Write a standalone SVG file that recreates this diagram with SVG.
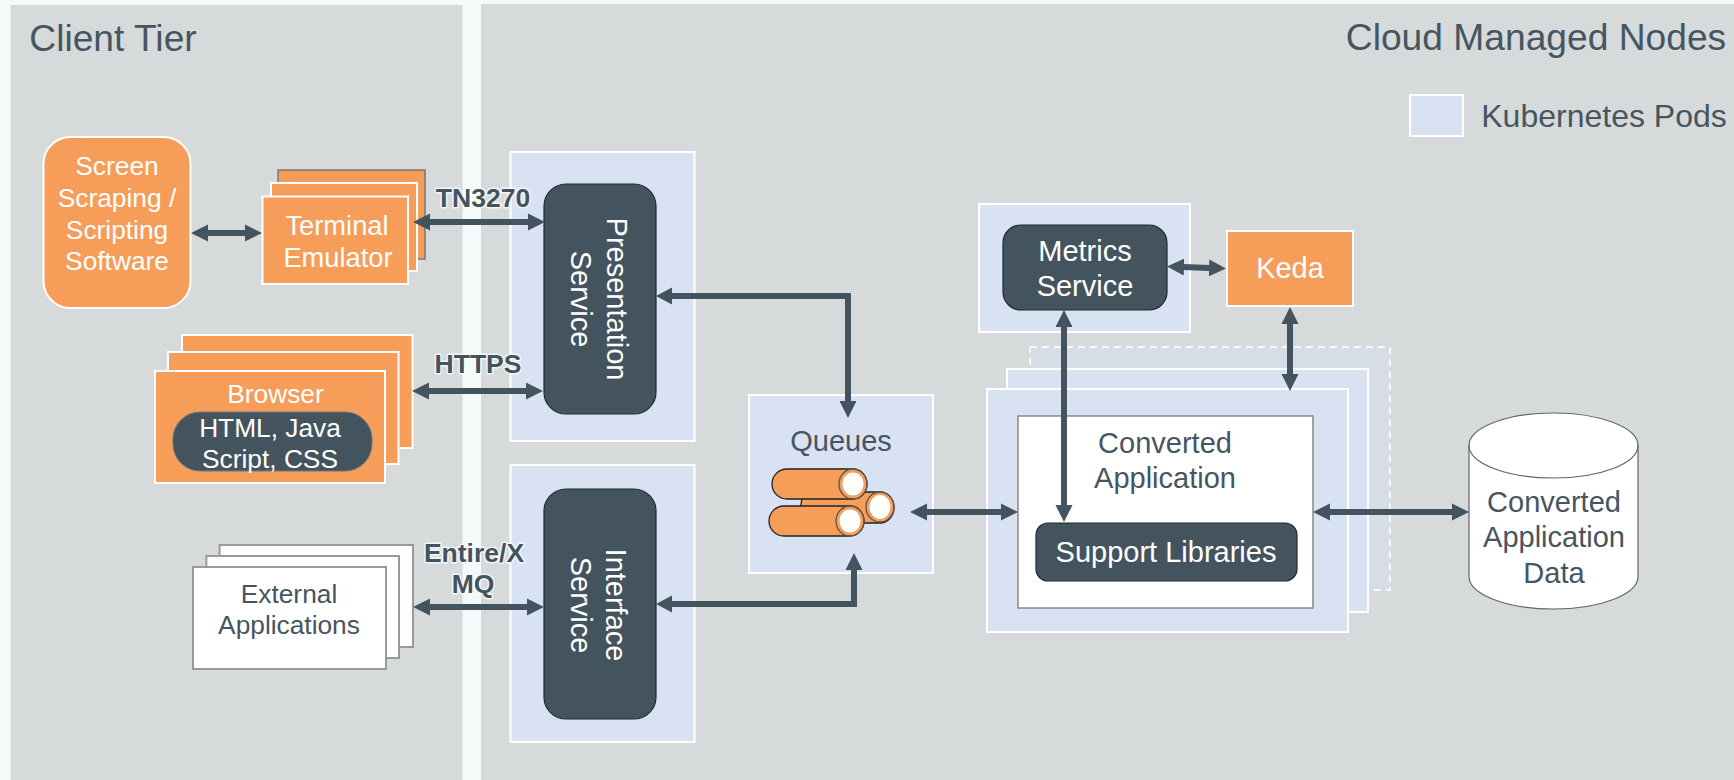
<svg xmlns="http://www.w3.org/2000/svg" width="1734" height="780" viewBox="0 0 1734 780">
<style>
text{font-family:"Liberation Sans",Arial,sans-serif;text-anchor:middle}
.panel{fill:#d6dadb}
.pod{fill:#d9e2f3;stroke:#fff;stroke-width:2}
.or{fill:#f59d59;stroke:#fff;stroke-width:2}
.dark{fill:#44545f;stroke:#1f2a30;stroke-width:1.2}
.wh{fill:#fff;stroke:#999;stroke-width:2}
.t26w{font-size:26.3px;fill:#fff}
.t27w{font-size:27.3px;fill:#fff}
.t29w{font-size:29px;fill:#fff}
.t26d{font-size:26.3px;fill:#46555f}
.t29d{font-size:29px;fill:#46555f}
.title{font-size:37.2px;fill:#46555f}
.lab{font-size:26.5px;font-weight:bold;fill:#44545f;stroke:#fff;stroke-opacity:.75;stroke-width:3px;paint-order:stroke;stroke-linejoin:round}
.c{fill:none;stroke:#44545f;stroke-width:6;marker-start:url(#ah);marker-end:url(#ah)}
.c1{fill:none;stroke:#44545f;stroke-width:6;marker-end:url(#ah)}
.tube{fill:#f59d59;stroke:#222;stroke-width:1.3}
.end{fill:#fff;stroke:#f59d59;stroke-width:3}
.ring{fill:none;stroke:#555;stroke-width:1.3}
</style>
<defs>
<marker id="ah" markerUnits="userSpaceOnUse" markerWidth="18" markerHeight="18" refX="1" refY="9" orient="auto-start-reverse" viewBox="0 0 18 18">
<path d="M0 0.500L17 9L0 17.500Z" fill="#44545f"/>
</marker>
</defs>
<rect width="1734" height="780" fill="#f4f9f9"/>
<g id="client-tier"><rect class="panel" x="10.500" y="5" width="452" height="775"/><text class="title" x="113" y="51">Client Tier</text></g>
<g id="cloud-nodes"><rect class="panel" x="481" y="4" width="1253" height="776"/><text class="title" x="1536" y="50">Cloud Managed Nodes</text></g>
<g id="legend"><rect class="pod" x="1410" y="95" width="53" height="41"/><text x="1604" y="127" font-size="32" fill="#46555f">Kubernetes Pods</text></g>
<g id="screen-scraping"><rect class="or" x="43.500" y="137" width="147" height="171" rx="27"/>
<text class="t26w" x="117" y="175">Screen</text><text class="t26w" x="117" y="207">Scraping /</text><text class="t26w" x="117" y="239">Scripting</text><text class="t26w" x="117" y="270">Software</text></g>
<g id="terminal-emulator"><rect x="278" y="170" width="147" height="89" fill="#f59d59" stroke="#777" stroke-width="1.500"/><rect class="or" x="271" y="183" width="146" height="88"/><rect class="or" x="262.500" y="196.500" width="145.500" height="87.500"/>
<text class="t27w" x="337" y="235">Terminal</text><text class="t27w" x="338" y="267">Emulator</text></g>
<g id="browser"><rect class="or" x="182" y="335" width="230.500" height="113"/><rect class="or" x="168" y="352" width="230.500" height="112"/><rect class="or" x="155" y="371" width="230" height="112"/>
<text class="t26w" x="275.500" y="403">Browser</text></g>
<g id="browser-tech"><rect x="173" y="412" width="199" height="59" rx="27" fill="#44545f" stroke="#6b7a84"/><text class="t26w" x="270" y="437">HTML, Java</text><text class="t26w" x="270" y="468">Script, CSS</text></g>
<g id="external-applications"><rect class="wh" x="219.600" y="545" width="193.400" height="102"/><rect class="wh" x="206.400" y="556" width="192.600" height="102"/><rect class="wh" x="193" y="567" width="193" height="102"/>
<text class="t26d" x="289" y="603">External</text><text class="t26d" x="289" y="634">Applications</text></g>
<g id="presentation-service"><rect class="pod" x="510.500" y="152" width="184" height="289"/><rect class="dark" x="544" y="184" width="112" height="230" rx="22"/>
<text class="t29w" transform="translate(607 299) rotate(90)">Presentation</text><text class="t29w" transform="translate(571 299) rotate(90)">Service</text></g>
<g id="interface-service"><rect class="pod" x="510.500" y="465" width="184" height="277"/><rect class="dark" x="544" y="489" width="112" height="230" rx="22"/>
<text class="t29w" transform="translate(606 605) rotate(90)">Interface</text><text class="t29w" transform="translate(571 605) rotate(90)">Service</text></g>
<g id="queues"><rect class="pod" x="749" y="395" width="184" height="178"/><text class="t29d" x="841" y="451">Queues</text>
<path class="tube" d="M803 492H880A14 15.500 0 0 1 880 523H798Z"/><ellipse class="end" cx="880" cy="507" rx="12" ry="13.500"/><ellipse class="ring" cx="880" cy="507" rx="14" ry="15"/>
<path class="tube" d="M787 469H853A14 15 0 0 1 853 499H787A15 15 0 0 1 787 469Z"/><ellipse class="end" cx="853" cy="484" rx="12" ry="13"/><ellipse class="ring" cx="853" cy="484" rx="14" ry="15"/>
<path class="tube" d="M784 506H850A14 15 0 0 1 850 536H784A15 15 0 0 1 784 506Z"/><ellipse class="end" cx="850" cy="521" rx="12" ry="13"/><ellipse class="ring" cx="850" cy="521" rx="14" ry="15"/></g>
<g id="metrics-service"><rect class="pod" x="979" y="204" width="211" height="128"/><rect class="dark" x="1003" y="225" width="164" height="85" rx="18"/>
<text class="t29w" x="1085" y="261">Metrics</text><text class="t29w" x="1085" y="296">Service</text></g>
<g id="keda"><rect class="or" x="1227" y="231" width="126" height="75"/><text class="t29w" x="1290" y="278">Keda</text></g>
<g id="converted-application"><rect x="1030" y="347" width="360" height="243" fill="#d6dde6" stroke="#fff" stroke-width="1.500" stroke-dasharray="7 5"/><rect class="pod" x="1007" y="369" width="361" height="243"/><rect class="pod" x="987" y="389" width="361" height="243"/><rect x="1018" y="416" width="295" height="192" fill="#fff" stroke="#888" stroke-width="1.500"/>
<text class="t29d" x="1165" y="453">Converted</text><text class="t29d" x="1165" y="488">Application</text></g>
<g id="support-libraries"><rect class="dark" x="1036" y="523" width="261" height="58" rx="12"/><text class="t29w" x="1166" y="562">Support Libraries</text></g>
<g id="application-data"><path d="M1469 445.500V576.500A84.500 32.500 0 0 0 1638 576.500V445.500A84.500 32.500 0 0 0 1469 445.500Z" fill="#fff" stroke="#666" stroke-width="1.200"/><path d="M1469 445.500A84.500 32.500 0 0 0 1638 445.500" fill="none" stroke="#666" stroke-width="1.200"/>
<text class="t29d" x="1554" y="512">Converted</text><text class="t29d" x="1554" y="547">Application</text><text class="t29d" x="1554" y="583">Data</text></g>
<g id="connectors">
<path class="c" d="M207 233H246"/>
<path class="c" d="M429 222H529"/>
<path class="c" d="M428 391H527"/>
<path class="c" d="M429 607H528"/>
<path class="c1" d="M672 296H848V402"/>
<path class="c1" d="M672 604H854V569"/>
<path class="c" d="M926 512H1002"/>
<path class="c" d="M1329 512H1453"/>
<path class="c" d="M1183 267L1210 268"/>
<path class="c" d="M1290 323V375"/>
<path class="c" d="M1064 326V506"/>
<path d="M656 296L672 287.500V304.500Z" fill="#44545f"/>
<path d="M656 604L672 595.500V612.500Z" fill="#44545f"/>
</g>
<g id="labels">
<text class="lab" x="483" y="207">TN3270</text><text class="lab" x="478" y="373">HTTPS</text><text class="lab" x="474" y="562">Entire/X</text><text class="lab" x="473" y="593">MQ</text>
</g>
</svg>
